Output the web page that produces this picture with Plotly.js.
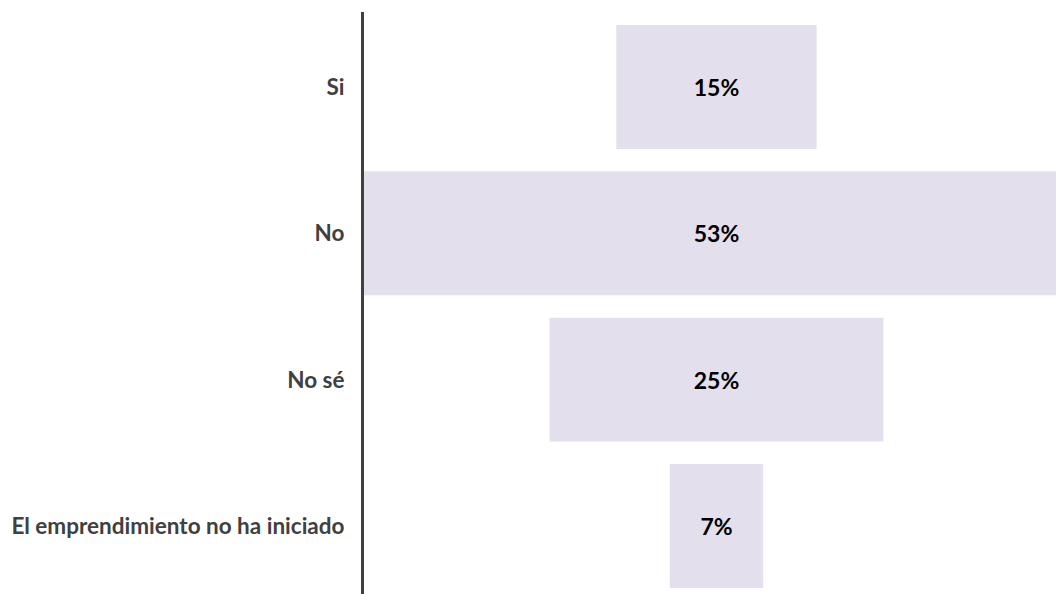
<!DOCTYPE html>
<html>
<head>
<meta charset="utf-8">
<script src="https://cdn.plot.ly/plotly-3.0.1.min.js"></script>
<style>html,body{margin:0;padding:0;background:#fff}#chart{width:1056px;height:594px}</style>
</head>
<body>
<div id="chart"></div>
<script>
var categories = ["Si", "No", "No sé", "El emprendimiento no ha iniciado"];
var values = [15, 53, 25, 7];

var trace = {
  type: "funnel",
  y: categories,
  x: values,
  texttemplate: "%{x}%",
  textposition: "inside",
  insidetextanchor: "middle",
  textfont: {family: "Lato, sans-serif", size: 23, color: "#000000", weight: 700},
  marker: {color: "#E4DFEC", line: {width: 0}},
  connector: {visible: false},
  hoverinfo: "skip"
};

var layout = {
  width: 1056, height: 594,
  margin: {l: 364, r: 0, t: 12, b: 0, pad: 0},
  paper_bgcolor: "#ffffff", plot_bgcolor: "#ffffff",
  funnelgap: 0.153,
  showlegend: false,
  xaxis: {visible: false, range: [-26.40, 25.43], fixedrange: true},
  yaxis: {
    type: "category",
    range: [3.465, -0.5125], autorange: false,
    showline: true, linecolor: "#404040", linewidth: 3,
    showgrid: false, zeroline: false, ticks: "",
    ticklabelstandoff: 12,
    tickfont: {family: "Lato, sans-serif", size: 22.5, color: "#404040", weight: 700}
  }
};

Plotly.newPlot("chart", [trace], layout, {staticPlot: true});
</script>
</body>
</html>
